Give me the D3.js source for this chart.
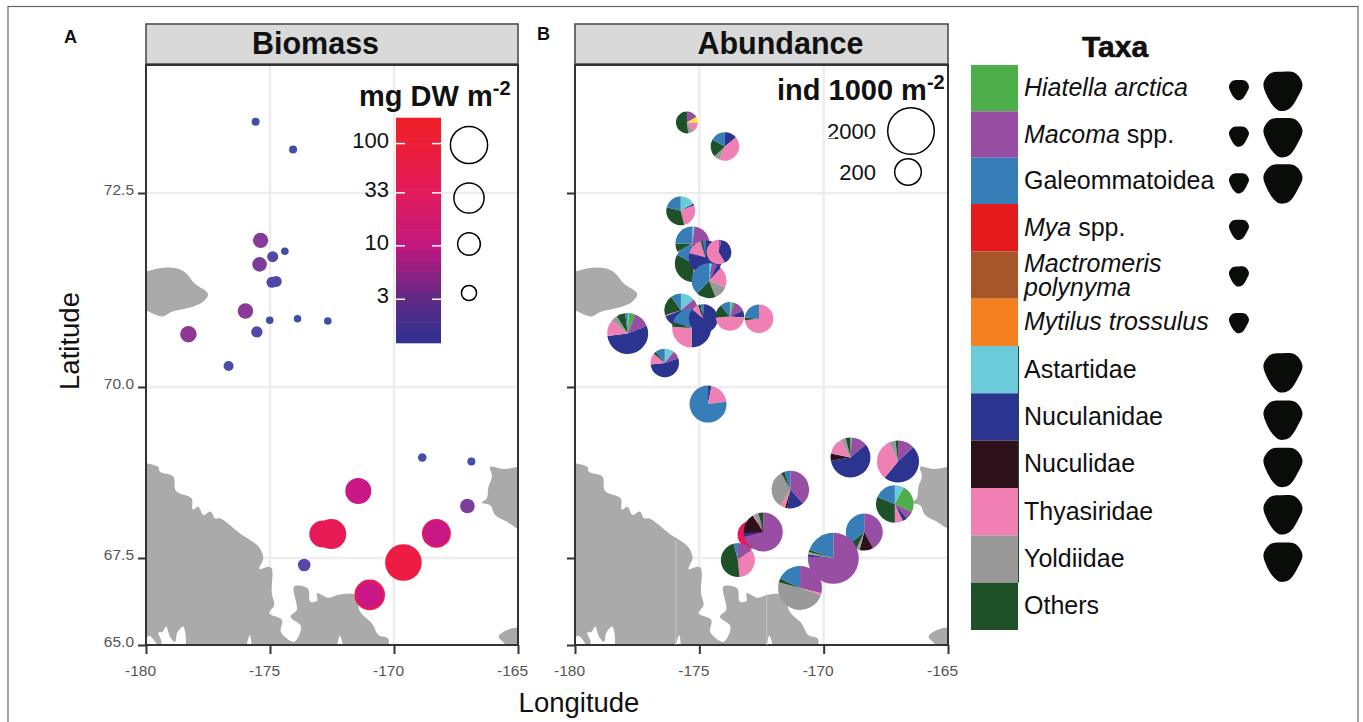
<!DOCTYPE html>
<html>
<head>
<meta charset="utf-8">
<script src="https://cdnjs.cloudflare.com/ajax/libs/d3/7.8.5/d3.min.js"></script>
<style>
	html, body { margin: 0; padding: 0; background: #fff; overflow: hidden; }
	text { font-family: "Liberation Sans", Arial, sans-serif; fill: #111; }
</style>
</head>
<body>
<svg id="fig" width="1363" height="722"></svg>
<script>

// axis ticks
var lonTicks = [-180, -175, -170, -165];
var latTicks = [65, 67.5, 70, 72.5];

// A: biomass stations, mg DW m-2
var bioLon = [-175.58, -174.07, -175.38, -174.40, -174.89, -175.42, -174.92, -174.75, -175.99, -175.01, -173.89, -172.67, -175.53, -178.29, -176.67, -168.86, -166.88, -171.44, -167.04, -168.29, -168.29, -172.87, -172.53, -173.62, -169.62, -170.98, -170.98];
var bioLat = [73.42, 73.06, 71.89, 71.75, 71.68, 71.58, 71.35, 71.36, 70.98, 70.86, 70.88, 70.85, 70.71, 70.68, 70.27, 68.97, 68.91, 68.48, 68.26, 67.86, 67.86, 67.85, 67.85, 67.30, 67.37, 66.44, 66.44];
var bioValue = [0.97, 0.97, 3.1, 0.9, 1.56, 2.76, 1.56, 1.56, 3.2, 0.9, 0.9, 0.9, 1.66, 3.7, 1.33, 1.07, 0.97, 16.9, 2.76, 27, 16.9, 19.8, 32, 2.0, 91, 35, 16.9];

// B: one stray biomass dot sits underneath the abundance pies
var strayLon = [-172.9];
var strayLat = [67.84];
var strayValue = [23];

// B: abundance stations, ind 1000 m-2
var pieLon = [-175.50, -173.97, -175.75, -175.28, -175.24, -174.74, -174.61, -174.21, -175.74, -175.31, -174.84, -173.77, -172.60, -177.88, -176.39, -174.65, -168.92, -167.01, -171.34, -167.14, -168.37, -172.43, -173.45, -170.95, -169.61];
var pieLat = [73.41, 73.10, 72.27, 71.85, 71.59, 71.67, 71.37, 71.74, 70.99, 70.76, 70.88, 70.91, 70.88, 70.69, 70.31, 69.75, 68.97, 68.91, 68.50, 68.29, 67.88, 67.88, 67.44, 66.64, 67.49];
var pieTotal = [117, 252, 263, 469, 663, 469, 525, 159, 437, 835, 263, 252, 252, 1047, 252, 663, 933, 1177, 710, 710, 663, 835, 469, 1483, 3300];

// share of each station's abundance, in the clockwise order the pies use
var pieOrder = ["Astartidae", "Hiatella", "Macoma", "Unlisted", "Nuculanidae", "Nuculidae", "Thyasiridae", "Yoldiidae", "Others", "Galeommatoidea"];
var pieShares = [
	[0, 0, 17, 9, 0, 0, 14, 8, 52, 0],
	[0, 0, 0, 0, 14, 0, 42, 7, 20, 17],
	[17, 0, 0, 0, 2, 0, 27, 0, 33, 21],
	[2, 0, 24, 0, 24, 0, 17, 0, 8, 25],
	[0, 0, 0, 0, 33, 0, 17, 0, 33, 17],
	[0, 0, 0, 0, 79, 0, 15, 1.5, 1.5, 3],
	[3, 0, 5, 0, 4, 0, 19, 13, 18, 38],
	[0, 0, 3, 0, 39, 0, 58, 0, 0, 0],
	[14, 0, 13, 0, 42, 0, 1, 0, 20, 10],
	[0, 0, 0, 0, 50, 0, 26, 0, 4, 20],
	[0, 0, 0, 0, 86, 0, 8, 0, 3, 3],
	[2, 3, 13, 0, 8, 0, 47, 0, 15, 11],
	[0, 0, 0, 0, 0, 0, 74, 0, 3, 24],
	[1, 5, 13, 0, 54, 0, 13, 5, 7, 2],
	[11, 0, 9, 0, 54, 0, 13, 0, 3, 11],
	[0, 0, 0, 0, 3, 0, 20, 0, 0, 77],
	[1, 0, 13, 0, 59, 6, 14, 4, 4, 0],
	[0, 0, 13, 0, 48, 0, 32, 5, 2, 0],
	[0, 0, 38, 0, 14, 2, 4, 33, 3, 5],
	[8, 24, 7, 0, 4, 0, 7, 0, 31, 19],
	[0, 0, 42, 0, 0, 12, 0, 3, 7, 36],
	[0, 0, 71, 0, 3, 17, 1, 4, 4, 0],
	[0, 0, 15, 0, 0, 0, 33, 0, 47, 4],
	[0, 0, 29, 0, 0, 0, 1.5, 49, 3, 18],
	[0, 0, 76, 0, 1.5, 0, 0, 1.5, 1.5, 19.5]
];

// legend
var taxa = ["Hiatella", "Macoma", "Galeommatoidea", "Mya", "Mactromeris", "Mytilus", "Astartidae", "Nuculanidae", "Nuculidae", "Thyasiridae", "Yoldiidae", "Others"];
var taxaItalic = ["Hiatella arctica", "Macoma", "", "Mya", "Mactromeris", "Mytilus trossulus", "", "", "", "", "", ""];
var taxaPlain = ["", " spp.", "Galeommatoidea", " spp.", "", "", "Astartidae", "Nuculanidae", "Nuculidae", "Thyasiridae", "Yoldiidae", "Others"];
var taxaColors = ["#4daf4a", "#984ea3", "#377eb8", "#e41a1c", "#a65628", "#f58020", "#6bcbd8", "#2b3590", "#2d121c", "#f080b4", "#999999", "#1e5128"];
var smallShell = ["Hiatella", "Macoma", "Galeommatoidea", "Mya", "Mactromeris", "Mytilus"];
var largeShell = ["Hiatella", "Macoma", "Galeommatoidea", "Astartidae", "Nuculanidae", "Nuculidae", "Thyasiridae", "Yoldiidae"];
var bioLegend = [100, 33, 10, 3];
var abuLegend = [2000, 200];

// coastlines as [lon, lat], they run past the frame and get clipped
var wrangel = [[-180.6, 71.49], [-180, 71.49], [-179.48, 71.53], [-178.79, 71.53], [-178.39, 71.47], [-178.06, 71.34], [-177.5, 71.2], [-177.7, 71.1], [-178.27, 71.02], [-178.95, 70.97], [-179.35, 70.91], [-179.88, 70.97], [-180, 70.99], [-180.6, 70.99]];
var chukotka = [[-180.6, 68.95], [-180, 68.89], [-179.5, 68.83], [-179.44, 68.76], [-178.9, 68.69], [-178.79, 68.48], [-178.16, 68.37], [-178.12, 68.21], [-177.89, 68.25], [-177.69, 68.13], [-177.39, 68.18], [-177.22, 68.08], [-177.02, 68.08], [-176.21, 67.86], [-175.47, 67.67], [-175.27, 67.5], [-175.43, 67.18], [-175.07, 67.25], [-174.93, 67.2], [-174.93, 66.49], [-174.83, 66.15], [-175.03, 65.91], [-174.52, 65.72], [-174.56, 65.37], [-174.03, 65.09], [-173.75, 65.53], [-174.17, 65.81], [-173.92, 66.01], [-174.03, 66.68], [-173.48, 66.63], [-173.37, 66.24], [-173.1, 66.27], [-173.1, 66.49], [-172.67, 66.36], [-172.26, 66.44], [-171.57, 66.44], [-171.37, 65.96], [-170.89, 65.62], [-170.62, 65.29], [-170.24, 65.19], [-170.21, 65], [-170.2, 64.4], [-180.6, 64.4]];
var alaskaNorth = [[-166.12, 68.83], [-165.58, 68.8], [-165, 68.83], [-164.4, 68.83], [-164.4, 67.93], [-165, 67.93], [-165.44, 68.03], [-165.92, 68.13], [-166.12, 68.27], [-166.46, 68.31], [-166.26, 68.37], [-166.19, 68.54], [-166.05, 68.69]];
var alaskaSouth = [[-164.4, 65.5], [-165, 65.5], [-165.44, 65.43], [-165.78, 65.24], [-165.51, 65], [-165.4, 64.4], [-164.4, 64.4]];
var land = [wrangel, chukotka, alaskaNorth, alaskaSouth];
var bays = [
	[[-180.1, 64.8], [-179.91, 65.26], [-179.73, 65.19], [-179.54, 64.9]],
	[[-179.44, 64.9], [-179.37, 65.09], [-179.5, 65.35], [-179.33, 65.38], [-179.19, 65.53], [-179.03, 65.24], [-178.83, 65.09], [-178.74, 65.35], [-178.5, 65.53], [-178.46, 64.9]],
	[[-175.94, 64.9], [-175.81, 65.29], [-175.77, 64.9]],
	[[-172.26, 64.9], [-172.19, 65.27], [-172.06, 64.9]]
];
var seams = [[[-175.95, 67.76], [-175.95, 65]], [[-172.29, 66.5], [-172.29, 65]]];

var svg = d3.select("#fig");
var plotTop = 65, plotBottom = 645;

var y = d3.scaleLinear()
	.domain([65, 67.5, 70, 72.5, 74.15])
	.range([plotBottom, 558, 387, 193, plotTop]);

// scales shared by both panels
var bioRadius = d3.scaleLog().domain([1, 100]).range([4.1, 18.6]);
var abuRadius = d3.scaleLog().domain([200, 2000]).range([13.3, 23.3]);
var barColor = d3.scaleLog()
	.domain([1.12, 3, 10, 33, 178])
	.range(["#2e3192", "#5e2a85", "#c0187f", "#e31b5c", "#f01f25"]);
var dotColor = d3.scaleLog()
	.domain([0.9, 2, 3.2, 17, 20, 90])
	.range(["#3c50aa", "#5b46a5", "#8a3a96", "#c91885", "#e6195c", "#ee1c42"])
	.clamp(true);
var pieColor = d3.scaleOrdinal()
	.domain(taxa.concat(["Unlisted"]))
	.range(taxaColors.concat(["#f5ea2e"]));

// Draws strip, grid, land and axes of one panel and hands back its group and x scale
function panel(left, right, title, titleX, letter, letterX, letterY, showLat) {

	var x = d3.scaleLinear().domain([-180, -165]).range([left, right]);
	var g = svg.append("g");
	var seam = d3.line().x(function(d){ return x(d[0]); }).y(function(d){ return y(d[1]); });
	var coast = seam.curve(d3.curveCatmullRomClosed.alpha(0.5));
	var clipId = "clip" + letter;

	g.append("clipPath").attr("id", clipId).append("rect")
		.attr("x", left).attr("y", plotTop).attr("width", right - left).attr("height", plotBottom - plotTop);

	g.append("text").attr("x", letterX).attr("y", letterY)
		.style("font-size", "18px").style("font-weight", "bold").text(letter);

	g.append("rect").attr("x", left).attr("y", 24).attr("width", right - left).attr("height", 40)
		.attr("fill", "#d9d9d9").attr("stroke", "#444").attr("stroke-width", 1.5);
	g.append("text").attr("x", titleX).attr("y", 54).attr("text-anchor", "middle")
		.style("font-size", "30.5px").style("font-weight", "bold").text(title);

	g.selectAll(".gridx").data(lonTicks.slice(1, 3)).enter().append("line")
		.attr("x1", x).attr("x2", x).attr("y1", plotTop).attr("y2", plotBottom)
		.attr("stroke", "#ededed").attr("stroke-width", 2.5);
	g.selectAll(".gridy").data(latTicks.slice(1)).enter().append("line")
		.attr("x1", left).attr("x2", right).attr("y1", y).attr("y2", y)
		.attr("stroke", "#ededed").attr("stroke-width", 2.5);

	var map = g.append("g").attr("clip-path", "url(#" + clipId + ")");
	map.selectAll(".land").data(land).enter().append("path")
		.attr("d", coast).attr("fill", "#aaaaaa");
	map.selectAll(".bay").data(bays).enter().append("path")
		.attr("d", coast).attr("fill", "#fff");

	var xAxis = d3.axisBottom(x).tickValues(lonTicks).tickSize(9).tickPadding(11)
		.tickFormat(function(d){ return d; });
	var yAxis = d3.axisLeft(y).tickValues(latTicks).tickSize(8).tickPadding(4)
		.tickFormat(showLat ? d3.format(".1f") : "");

	var ax = g.append("g").attr("transform", "translate(0," + plotBottom + ")").call(xAxis);
	var ay = g.append("g").attr("transform", "translate(" + left + ",0)").call(yAxis);
	ax.select(".domain").remove();
	ay.select(".domain").remove();
	g.selectAll(".tick line").attr("stroke", "#333").attr("stroke-width", 2);
	g.selectAll(".tick text").style("font-size", "15.5px").style("fill", "#555");
	ax.selectAll(".tick text").attr("dx", -6);
	ay.selectAll(".tick text").attr("dy", "0.12em");

	g.append("rect").attr("x", left).attr("y", plotTop).attr("width", right - left).attr("height", plotBottom - plotTop)
		.attr("fill", "none").attr("stroke", "#333").attr("stroke-width", 2);

	return { g: g, x: x };
}

// outer frame, it runs off the bottom of the page
svg.append("rect").attr("x", 8).attr("y", 6.5).attr("width", 1350).attr("height", 740)
	.attr("fill", "none").attr("stroke", "#666").attr("stroke-width", 1.2);

var a = panel(146, 518, "Biomass", 315.5, "A", 64, 43, true);
var b = panel(575, 948, "Abundance", 780.5, "B", 537, 40, false);

svg.append("text").attr("transform", "translate(79,341) rotate(-90)").attr("text-anchor", "middle")
	.style("font-size", "27.5px").text("Latitude");
svg.append("text").attr("x", 579).attr("y", 712).attr("text-anchor", "middle")
	.style("font-size", "27.5px").text("Longitude");

// A: biomass dots
a.g.selectAll(".dot").data(d3.range(bioValue.length)).enter().append("circle")
	.attr("cx", function(i){ return a.x(bioLon[i]); })
	.attr("cy", function(i){ return y(bioLat[i]); })
	.attr("r", function(i){ return bioRadius(bioValue[i]); })
	.attr("fill", function(i){ return dotColor(bioValue[i]); });

// A: colour bar, stepped like the printed one
var barY = d3.scaleLog().domain([1.12, 178]).range([343, 118]);
var barBands = d3.range(22).map(function(i){ return barY.invert(343 - (i + 0.5) * 225 / 22); });
var bioRow = d3.scaleOrdinal().domain(bioLegend).range([145, 198, 244, 293]);

a.g.selectAll(".band").data(barBands).enter().append("rect")
	.attr("x", 396).attr("width", 45)
	.attr("y", function(d){ return barY(d) - 225 / 44 - 0.3; })
	.attr("height", 225 / 22 + 0.6)
	.attr("fill", barColor);

function unitTitle(x, yPos, txt) {
	var t = svg.append("text").attr("x", x).attr("y", yPos).style("font-size", "29px").style("font-weight", "bold");
	t.append("tspan").text(txt);
	t.append("tspan").attr("dy", -11).style("font-size", "20px").text("-2");
}
unitTitle(359, 106, "mg DW m");
unitTitle(777, 100, "ind 1000 m");

var barTick = a.g.selectAll(".barTick").data(bioLegend).enter().append("g");
barTick.append("line").attr("x1", 396).attr("x2", 405).attr("y1", barY).attr("y2", barY)
	.attr("stroke", "#fff").attr("stroke-width", 1.5);
barTick.append("line").attr("x1", 432).attr("x2", 441).attr("y1", barY).attr("y2", barY)
	.attr("stroke", "#fff").attr("stroke-width", 1.5);
barTick.append("text").attr("x", 389).attr("y", function(d){ return barY(d) + 4; })
	.attr("text-anchor", "end").style("font-size", "22px").text(function(d){ return d; });
barTick.append("circle").attr("cx", 469)
	.attr("cy", bioRow)
	.attr("r", function(d){ return bioRadius(d); })
	.attr("fill", "none").attr("stroke", "#000").attr("stroke-width", 1.5);

// B: stray dot, then the pies in the order they overlap
b.g.selectAll(".stray").data(strayValue).enter().append("circle")
	.attr("cx", function(d, i){ return b.x(strayLon[i]); })
	.attr("cy", function(d, i){ return y(strayLat[i]); })
	.attr("r", function(d){ return bioRadius(d); })
	.attr("fill", function(d){ return dotColor(d); });

var pie = d3.pie().sort(null).value(function(d){ return d; });
var arc = d3.arc().innerRadius(0);

var pies = b.g.selectAll(".pie").data(pieShares).enter().append("g")
	.attr("transform", function(d, i){ return "translate(" + b.x(pieLon[i]) + "," + y(pieLat[i]) + ")"; });

pies.each(function(shares, i) {
	var outer = abuRadius(pieTotal[i]);
	d3.select(this).selectAll("path").data(pie(shares)).enter().append("path")
		.attr("d", function(d){ return arc.outerRadius(outer)(d); })
		.attr("fill", function(d, j){ return pieColor(pieOrder[j]); });
});

// thin pale seams in the land of panel B
b.g.selectAll(".seam").data(seams).enter().append("line")
	.attr("x1", function(d){ return b.x(d[0][0]); }).attr("x2", function(d){ return b.x(d[1][0]); })
	.attr("y1", function(d){ return y(d[0][1]); }).attr("y2", function(d){ return y(d[1][1]); })
	.attr("stroke", "#c9c9c9").attr("stroke-width", 0.8);

// B: size legend
var abuRow = d3.scalePoint().domain(abuLegend).range([131, 172]);
b.g.selectAll(".abuText").data(abuLegend).enter().append("text")
	.attr("x", 876).attr("y", function(d){ return abuRow(d) + 8; })
	.attr("text-anchor", "end").style("font-size", "22px").text(function(d){ return d; });
b.g.selectAll(".abuCircle").data(abuLegend).enter().append("circle")
	.attr("cx", function(d){ return d == 2000 ? 911 : 908; })
	.attr("cy", abuRow)
	.attr("r", function(d){ return abuRadius(d); })
	.attr("fill", "none").attr("stroke", "#000").attr("stroke-width", 1.5);

// the two white nicks through the 2000 label
b.g.selectAll(".nick").data([[823, 835], [863, 870]]).enter().append("line")
	.attr("x1", function(d){ return d[0]; }).attr("x2", function(d){ return d[1]; })
	.attr("y1", 137.7).attr("y2", 137.7)
	.attr("stroke", "#fff").attr("stroke-width", 1.5);

// taxa legend, the rows are not quite even in the print
var rowEdge = d3.scaleLinear().domain([0, 3, 6, 12]).range([65, 204, 346, 630]);
function rowMid(name) {
	var i = taxa.indexOf(name);
	return (rowEdge(i) + rowEdge(i + 1)) / 2;
}

svg.append("text").attr("x", 1115).attr("y", 57).attr("text-anchor", "middle")
	.attr("stroke", "#111").attr("stroke-width", 0.6)
	.style("font-size", "30px").style("font-weight", "bold").text("Taxa");

svg.selectAll(".swatch").data(taxa).enter().append("rect")
	.attr("x", 971).attr("width", 47)
	.attr("y", function(d, i){ return rowEdge(i); })
	.attr("height", function(d, i){ return rowEdge(i + 1) - rowEdge(i); })
	.attr("fill", function(d, i){ return taxaColors[i]; });

svg.append("line").attr("x1", 1018.5).attr("x2", 1018.5)
	.attr("y1", rowEdge(6)).attr("y2", rowEdge(11))
	.attr("stroke", "#1e5128").attr("stroke-width", 1);

var labels = svg.selectAll(".label").data(taxa).enter().append("text")
	.attr("x", 1024)
	.attr("y", function(d){ return rowMid(d) + 8; })
	.style("font-size", "25px");

labels.append("tspan").style("font-style", "italic").text(function(d, i){ return taxaItalic[i]; });
labels.append("tspan").text(function(d, i){ return taxaPlain[i]; });

// the one name that breaks over two lines
labels.filter(function(d){ return d == "Mactromeris"; }).each(function(d) {
	d3.select(this).attr("y", rowMid(d) - 3);
	d3.select(this).append("tspan").attr("x", 1024).attr("dy", 24).style("font-style", "italic").text("polynyma");
});

// shell silhouette, drawn in a unit box
var shellOutline = [[-0.5, -0.2], [-0.32, -0.46], [0, -0.5], [0.32, -0.46], [0.5, -0.18], [0.38, 0.14], [0.2, 0.42], [0.05, 0.5], [-0.1, 0.5], [-0.25, 0.38], [-0.42, 0.1]];

function shells(names, cx, size, rowY) {
	var line = d3.line()
		.x(function(d){ return d[0] * size; })
		.y(function(d){ return d[1] * size; })
		.curve(d3.curveCatmullRomClosed);
	svg.selectAll(".shell" + size).data(names).enter().append("path")
		.attr("class", "shell" + size)
		.attr("transform", function(d){ return "translate(" + cx + "," + rowY(d) + ")"; })
		.attr("d", line(shellOutline))
		.attr("fill", "#0a0c0a");
}
shells(smallShell, 1239, 20, d3.scalePoint().domain(smallShell).range([90, 323]));
shells(largeShell, 1283, 39, function(d){ return rowMid(d) + 3; });

</script>
</body>
</html>
